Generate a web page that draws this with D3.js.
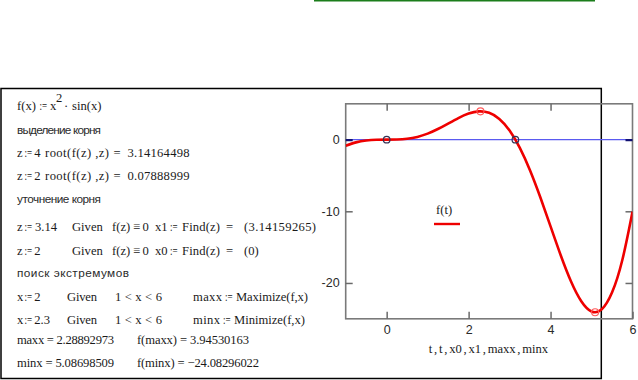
<!DOCTYPE html>
<html><head><meta charset="utf-8">
<script src="https://cdn.jsdelivr.net/npm/d3@7"></script>
<style>
html,body{margin:0;padding:0;background:#fff;}
svg{display:block;}
.serif{font-family:"Liberation Serif","Times New Roman",serif;font-size:12.6px;fill:#1a1a1a;}
.sans{font-family:"Liberation Sans",Arial,sans-serif;font-size:11.8px;fill:#2a2a2a;}
</style></head>
<body><svg id="c" width="638" height="380"></svg>
<script>
// ---- data ----
const tValues = [-1,-0.75,-0.5,-0.25,0,0.25,0.5,0.75,1,1.25,1.5,1.75,2,2.25,2.5,2.75,3,3.25,3.5,3.75,4,4.25,4.5,4.75,5,5.25,5.5,5.75,6];
const fValues = [-0.8415,-0.3834,-0.1199,-0.0155,0,0.0155,0.1199,0.3834,0.8415,1.4828,2.2444,3.0135,3.6372,3.9390,3.7404,2.8863,1.2701,-1.1429,-4.2971,-8.0376,-12.1088,-16.1658,-19.7950,-22.5465,-23.9731,-23.6743,-21.3426,-16.8358,-10.0590];
const rootX = [0, 3.14159265];
const rootY = [0, 0];
const extX = [2.28892973, 5.08698509];
const extY = [3.94530163, -24.08296022];
const xTicks = [0, 2, 4, 6];
const yTicks = [0, -10, -20];
const xDomain = [-1, 6];
const yDomain = [-25, 5];
const xTitle = "t , t , x0 , x1 , maxx , minx";
const legendLabel = "f(t)";

const svg = d3.select("#c");

// top green line
svg.append("line").attr("x1",314).attr("x2",595).attr("y1",0.7).attr("y2",0.7)
  .attr("stroke","#1b7d1b").attr("stroke-width",1.6);

// outer worksheet box
svg.append("rect").attr("x",1).attr("y",88.5).attr("width",600.3).attr("height",290)
  .attr("fill","none").attr("stroke","#000").attr("stroke-width",1.5);

// ---- left text block ----
const T = svg.append("g");
function txt(x,y,s,cls,w,mode){
  const t = T.append("text").attr("x",x).attr("y",y).attr("class",cls).text(s);
  if (w) t.attr("textLength",w).attr("lengthAdjust",mode||"spacing");
  return t;
}
// ":=" is drawn compact, as Mathcad does
function row(y, parts){
  parts.forEach(p=>{
    if (p[1]===":=") txt(p[0],y,":=","serif",7.6,"spacingAndGlyphs");
    else txt(p[0],y,p[1],"serif",p[2]);
  });
}

// line 1
row(110, [[17,"f(x)"],[39.5,":="],[50,"x"],[64,"\u00b7"],[72,"sin(x)"]]);
txt(56,102,"2","serif").attr("font-size","11px");
txt(17,134,"выделение корня","sans",84);
row(157, [[17,"z"],[24.6,":="],[34.2,"4"],[45,"root(f(z) ,z)",64],[113.5,"="],[127.5,"3.14164498",62]]);
row(180, [[17,"z"],[24.6,":="],[34.2,"2"],[45,"root(f(z) ,z)",64],[113.5,"="],[127.5,"0.07888999",62]]);
txt(17,203,"уточнение корня","sans",84);
row(231, [[17,"z"],[24.6,":="],[35,"3.14"],[72,"Given"],[112,"f(z)"],[133,"\u2261"],[142.5,"0"],
          [155,"x1"],[170,":="],[182,"Find(z)",38],[226,"="],[244,"(3.14159265)",72]]);
row(255, [[17,"z"],[24.6,":="],[34.2,"2"],[72,"Given"],[112,"f(z)"],[133,"\u2261"],[142.5,"0"],
          [155,"x0"],[170,":="],[182,"Find(z)",38],[226,"="],[244,"(0)"]]);
txt(17,277,"поиск экстремумов","sans",112);
row(301, [[17,"x"],[24.6,":="],[34.2,"2"],[67,"Given",30],[115,"1 < x < 6",47],
          [193,"maxx",29],[225,":="],[236,"Maximize(f,x)",72]]);
row(324, [[17,"x"],[24.6,":="],[34.2,"2.3"],[67,"Given",30],[115,"1 < x < 6",47],
          [193,"minx",27],[223,":="],[234,"Minimize(f,x)",71]]);
row(344, [[17,"maxx = 2.28892973",97],[137,"f(maxx) = 3.94530163",112]]);
row(367, [[17,"minx = 5.08698509",97],[137,"f(minx) = \u221224.08296022",122]]);

// ---- chart ----
const L = 345.7, R = 632.5, Tp = 103.8, B = 318.8;
const x = d3.scaleLinear().domain(xDomain).range([L, R]);
const y = d3.scaleLinear().domain(yDomain).range([B, Tp]);

svg.append("clipPath").attr("id","clip").append("rect")
  .attr("x",L).attr("y",Tp).attr("width",R-L).attr("height",B-Tp);

// zero line (t vs 0)
svg.append("line").attr("x1",x(xDomain[0])).attr("x2",x(xDomain[1]))
  .attr("y1",y(0)).attr("y2",y(0)).attr("stroke","#5a5af0").attr("stroke-width",1.4);

// frame
svg.append("rect").attr("x",L).attr("y",Tp).attr("width",R-L).attr("height",B-Tp)
  .attr("fill","none").attr("stroke","#7a7a7a").attr("stroke-width",1.6);

// axes (inward ticks)
const axFont = "Liberation Sans, Arial, sans-serif";
const gb = svg.append("g").attr("transform",`translate(0,${B})`)
  .call(d3.axisBottom(x).tickValues(xTicks).tickSize(-7).tickPadding(6).tickFormat(d3.format("d")));
const gt = svg.append("g").attr("transform",`translate(0,${Tp})`)
  .call(d3.axisTop(x).tickValues(xTicks.slice(0,3)).tickSize(-7).tickFormat(""));
const gl = svg.append("g").attr("transform",`translate(${L},0)`)
  .call(d3.axisLeft(y).tickValues(yTicks).tickSize(-7).tickPadding(6).tickFormat(d3.format("d")));
const gr = svg.append("g").attr("transform",`translate(${R},0)`)
  .call(d3.axisRight(y).tickValues(yTicks).tickSize(-7).tickFormat(""));
[gb,gt,gl,gr].forEach(g=>{
  g.select(".domain").remove();
  g.selectAll(".tick line").attr("stroke","#6a6a6a").attr("stroke-width",1.5);
  g.selectAll(".tick text").attr("font-family",axFont).attr("font-size","12.5px").attr("fill","#2a2a2a");
});
gl.selectAll(".tick text").text(d=>d<0?"-"+Math.abs(d):d);
// dark where the zero-line meets its ticks
gl.selectAll(".tick").filter(d=>d===0).select("line").attr("stroke","#101070").attr("stroke-width",2.2);
gr.selectAll(".tick").filter(d=>d===0).select("line").attr("stroke","#101070").attr("stroke-width",2.2);

// f(t) curve
const pts = tValues.map((t,i)=>[t,fValues[i]]);
svg.append("path").datum(pts).attr("clip-path","url(#clip)")
  .attr("fill","none").attr("stroke","#ee0000").attr("stroke-width",2.6)
  .attr("d", d3.line().x(d=>x(d[0])).y(d=>y(d[1])).curve(d3.curveNatural));

// root markers
svg.selectAll(".root").data(rootX).join("circle").attr("class","root")
  .attr("cx",d=>x(d)).attr("cy",(d,i)=>y(rootY[i])).attr("r",3.3)
  .attr("fill","none").attr("stroke","#333355").attr("stroke-width",1.2);
// extremum markers
svg.selectAll(".ext").data(extX).join("circle").attr("class","ext")
  .attr("cx",d=>x(d)).attr("cy",(d,i)=>y(extY[i])).attr("r",3.5)
  .attr("fill","none").attr("stroke","#ff5a5a").attr("stroke-width",1.1);

// x title
svg.append("text").attr("class","serif").attr("x",488.5).attr("y",353).attr("font-size","12px")
  .attr("word-spacing","-1.4px").attr("text-anchor","middle").text(xTitle);

// legend
svg.append("text").attr("class","serif").attr("x",436).attr("y",214).attr("font-size","13px").text(legendLabel);
svg.append("line").attr("x1",434).attr("x2",460).attr("y1",224).attr("y2",224)
  .attr("stroke","#ee0000").attr("stroke-width",2.4);
</script></body></html>
